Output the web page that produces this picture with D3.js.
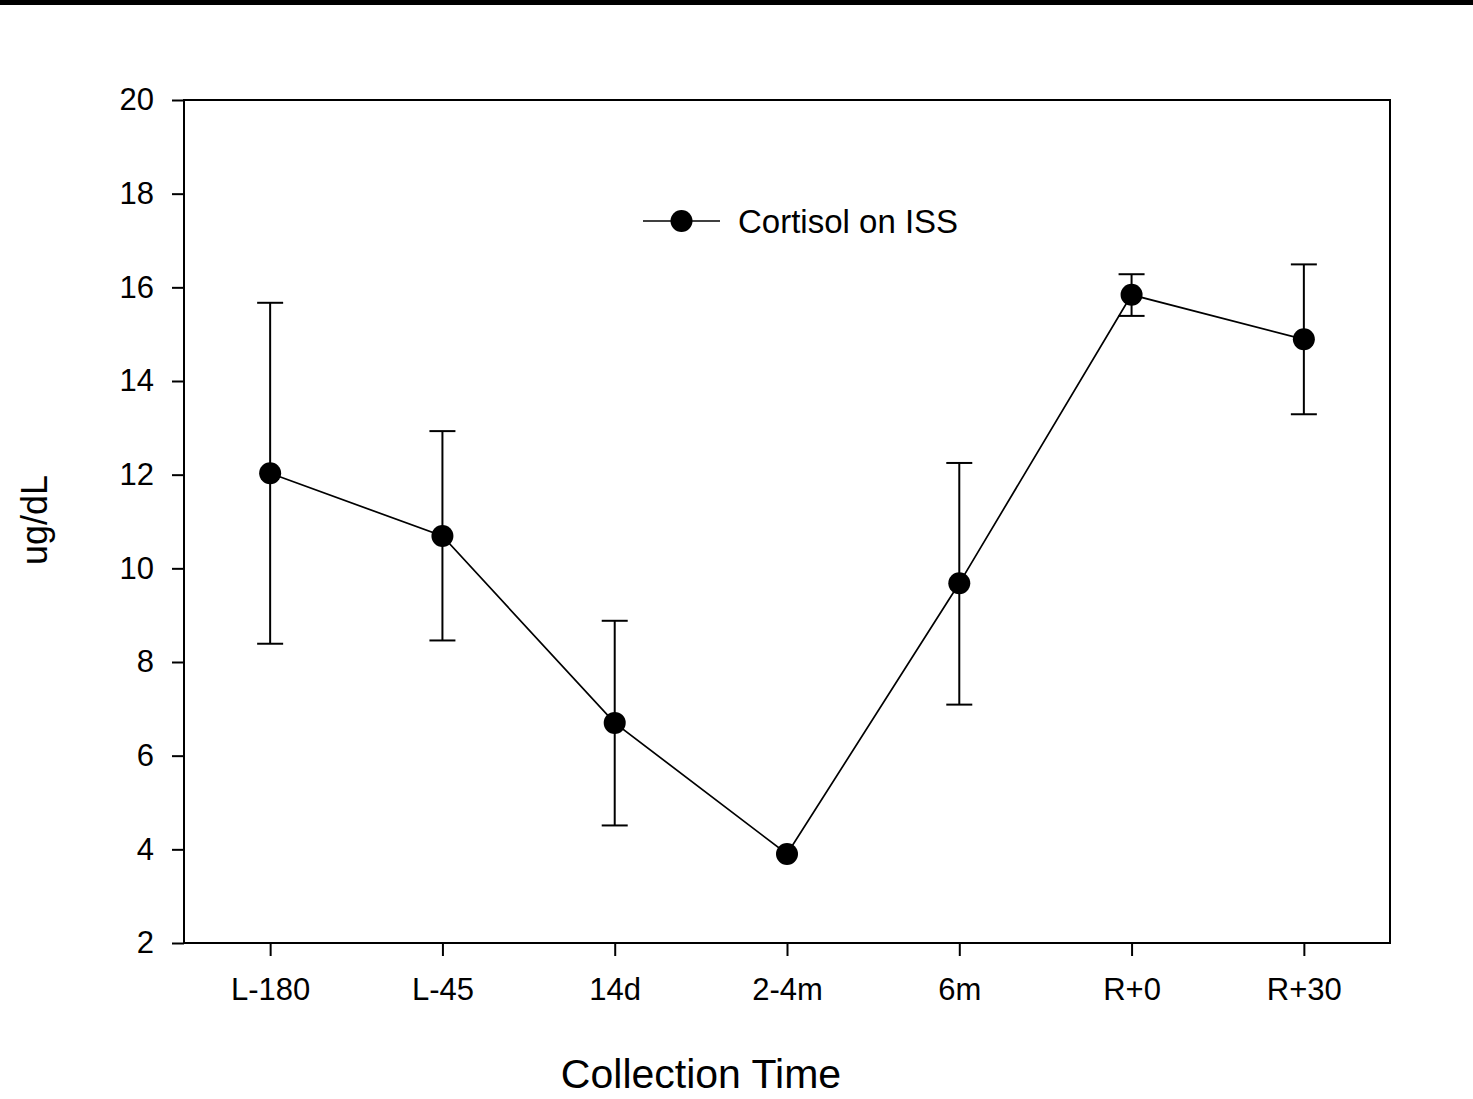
<!DOCTYPE html>
<html>
<head>
<meta charset="utf-8">
<script src="https://cdn.jsdelivr.net/npm/d3@7"></script>
<style>
  html, body { margin: 0; padding: 0; background: #fff; }
  svg { display: block; font-family: "Liberation Sans", Arial, sans-serif; }
</style>
</head>
<body>
<svg id="chart" width="1473" height="1099"></svg>
<script>
// Cortisol measured across the ISS mission timeline
const categories = ["L-180", "L-45", "14d", "2-4m", "6m", "R+0", "R+30"];
const means      = [12.03, 10.69, 6.70, 3.90, 9.68, 15.84, 14.89];
const upper      = [15.67, 12.93, 8.88, 3.90, 12.25, 16.28, 16.49];
const lower      = [8.39, 8.46, 4.51, 3.90, 7.09, 15.39, 13.29];
const yTicks     = [2, 4, 6, 8, 10, 12, 14, 16, 18, 20];
const seriesName = "Cortisol on ISS";

(function () {
  const svg = d3.select("#chart");
  const W = 1473;
  const font = "Liberation Sans, Arial, sans-serif";

  // black band along the top edge
  svg.append("rect").attr("x", 0).attr("y", 0).attr("width", W).attr("height", 5).attr("fill", "#000");

  const plot = { left: 184, right: 1390, top: 100, bottom: 943 };

  const x = d3.scalePoint().domain(categories).range([plot.left, plot.right]).padding(0.5);
  const y = d3.scaleLinear().domain([2, 20]).range([plot.bottom, plot.top]);

  // frame
  svg.append("rect")
    .attr("x", plot.left).attr("y", plot.top)
    .attr("width", plot.right - plot.left).attr("height", plot.bottom - plot.top)
    .attr("fill", "none").attr("stroke", "#000").attr("stroke-width", 2);

  // axes
  const yAxis = svg.append("g").attr("transform", `translate(${plot.left},0)`)
    .call(d3.axisLeft(y).tickValues(yTicks).tickSize(12).tickPadding(18).tickFormat(d3.format("d")));
  const xAxis = svg.append("g").attr("transform", `translate(0,${plot.bottom})`)
    .call(d3.axisBottom(x).tickSize(13).tickPadding(22));

  [yAxis, xAxis].forEach(g => {
    g.attr("font-size", null).attr("font-family", null);
    g.select(".domain").remove();
    g.selectAll(".tick line").attr("stroke", "#000").attr("stroke-width", 2);
    g.selectAll(".tick text").attr("fill", "#000")
      .style("font-size", "31px").style("font-family", font);
  });

  // axis titles
  svg.append("text").attr("x", 701).attr("y", 1088).attr("text-anchor", "middle")
    .style("font-size", "41px").style("font-family", font).text("Collection Time");
  svg.append("text").attr("transform", `translate(47,520) rotate(-90)`)
    .attr("text-anchor", "middle").style("font-size", "36px").style("font-family", font).text("ug/dL");

  const data = categories.map((c, i) => ({ c, m: means[i], hi: upper[i], lo: lower[i] }));

  // error bars
  const capHalf = 13;
  const eb = svg.append("g").attr("stroke", "#000").attr("stroke-width", 2);
  data.filter(d => d.hi > d.lo).forEach(d => {
    const cx = x(d.c);
    eb.append("line").attr("x1", cx).attr("x2", cx).attr("y1", y(d.hi)).attr("y2", y(d.lo));
    eb.append("line").attr("x1", cx - capHalf).attr("x2", cx + capHalf).attr("y1", y(d.hi)).attr("y2", y(d.hi));
    eb.append("line").attr("x1", cx - capHalf).attr("x2", cx + capHalf).attr("y1", y(d.lo)).attr("y2", y(d.lo));
  });

  // connecting line
  svg.append("path").datum(data)
    .attr("fill", "none").attr("stroke", "#000").attr("stroke-width", 1.7)
    .attr("d", d3.line().x(d => x(d.c)).y(d => y(d.m)));

  // markers
  svg.append("g").selectAll("circle").data(data).join("circle")
    .attr("cx", d => x(d.c)).attr("cy", d => y(d.m)).attr("r", 11).attr("fill", "#000");

  // legend
  const lg = svg.append("g").attr("transform", "translate(643,221)");
  lg.append("line").attr("x1", 0).attr("x2", 77).attr("y1", 0).attr("y2", 0)
    .attr("stroke", "#000").attr("stroke-width", 1.7);
  lg.append("circle").attr("cx", 38.5).attr("cy", 0).attr("r", 11).attr("fill", "#000");
  lg.append("text").attr("x", 95).attr("y", 0).attr("dy", "0.35em")
    .style("font-size", "33px").style("font-family", font).text(seriesName);
})();
</script>
</body>
</html>
